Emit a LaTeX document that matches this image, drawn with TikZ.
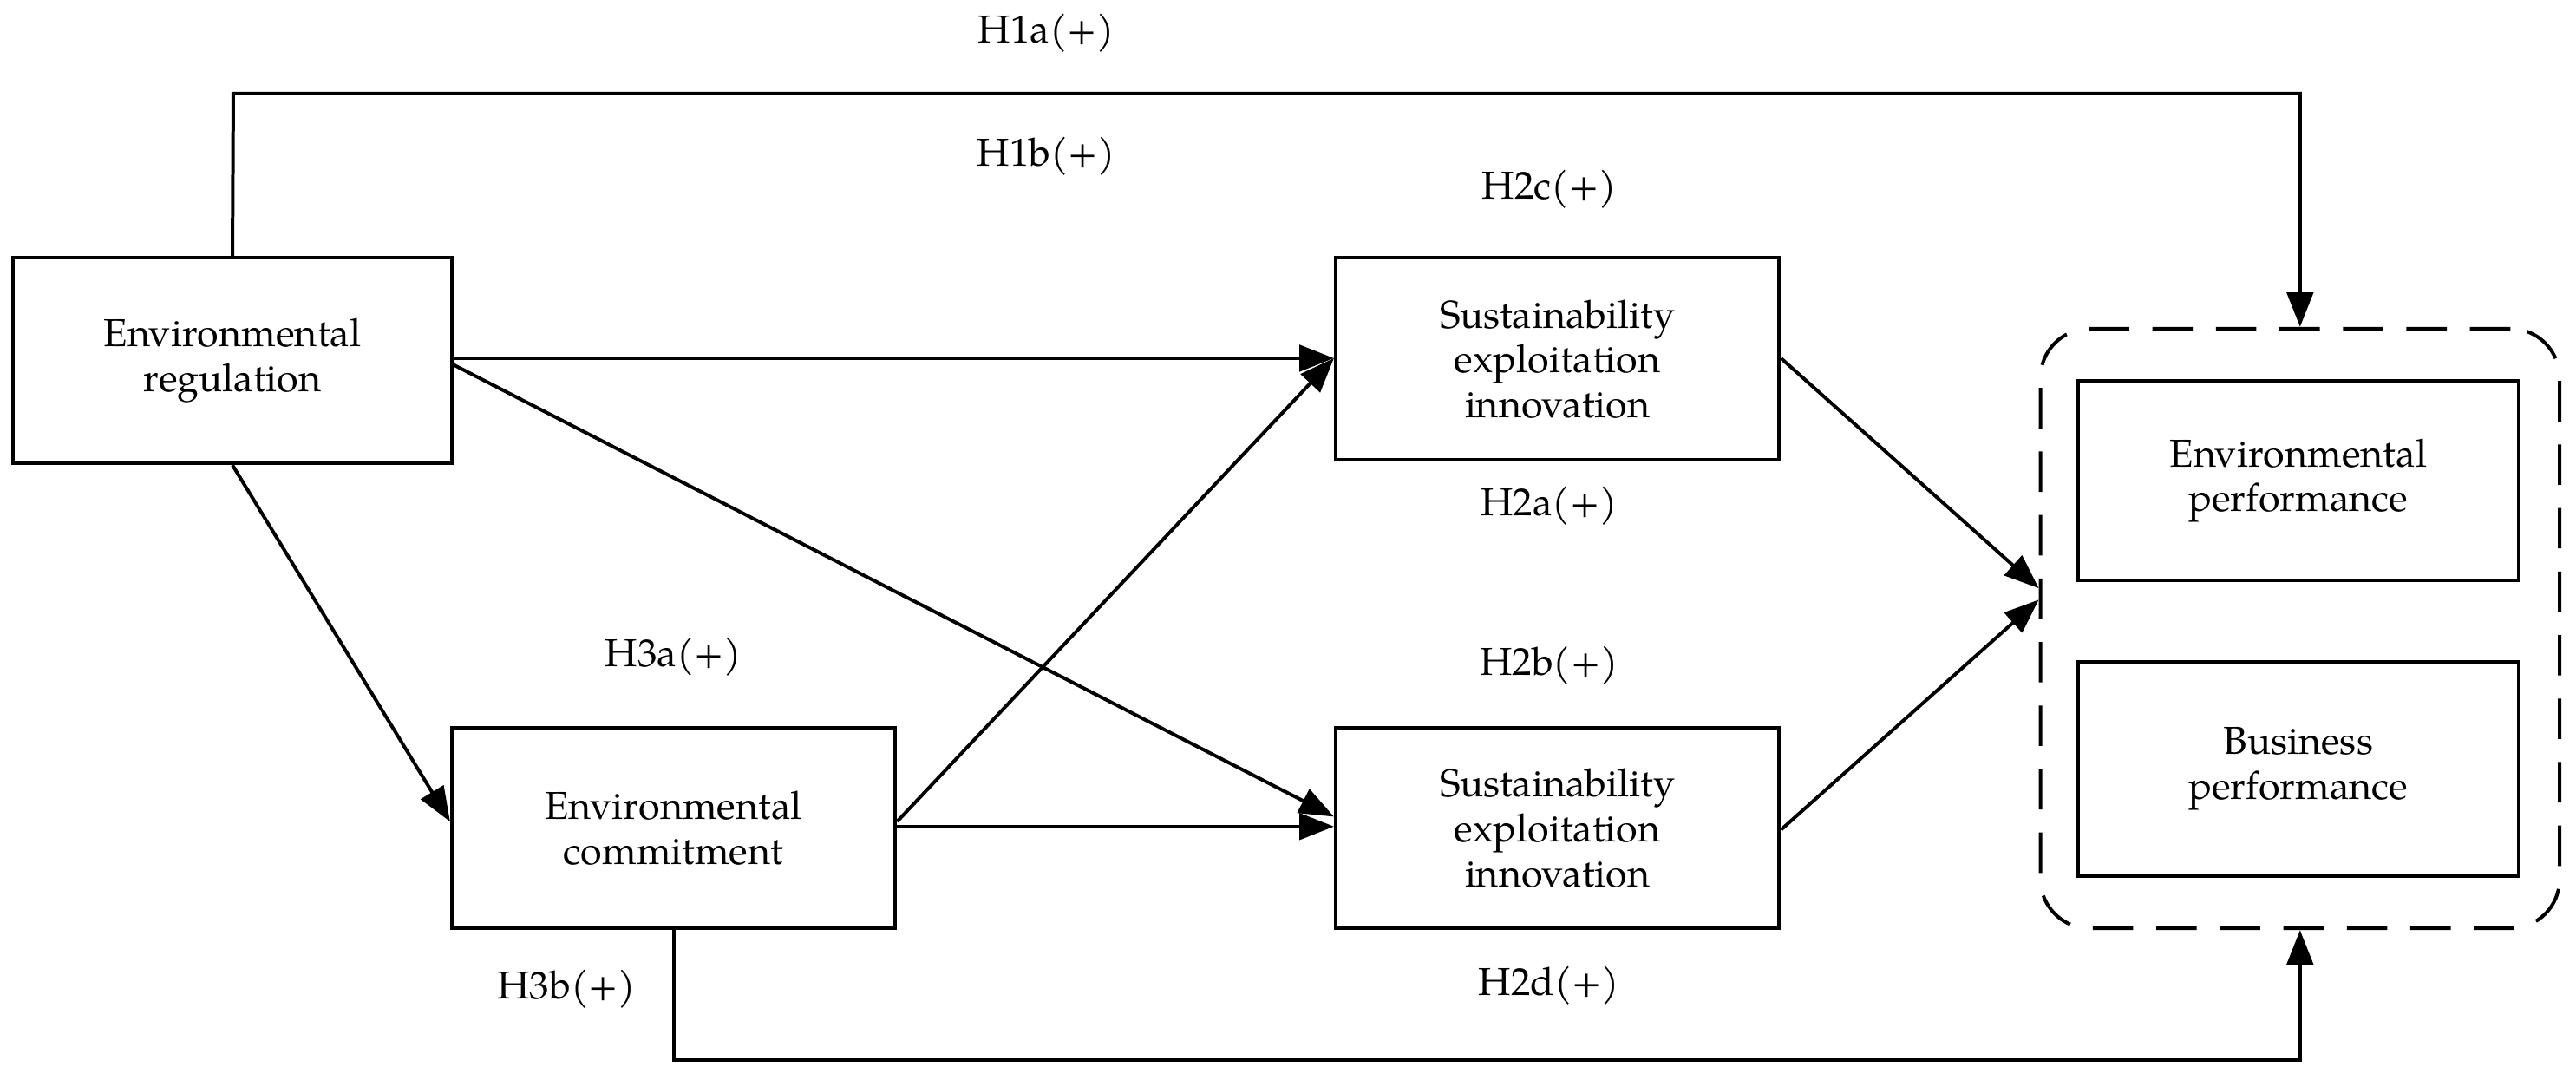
\documentclass[tikz,border=0pt]{standalone}
\usepackage{fontspec}
\setmainfont{TeX Gyre Pagella}
\usetikzlibrary{arrows.meta}
\begin{document}
\begin{tikzpicture}[x=0.02cm,y=-0.02cm,
  box/.style={draw,line width=1.2pt,align=center,font=\fontsize{13.5}{15.5}\selectfont},
  lab/.style={font=\fontsize{13.5}{15.5}\selectfont},
  arr/.style={line width=1.2pt,-{Triangle[length=0.42cm,width=0.32cm]}}]
\useasboundingbox (0,0) rectangle (1568,657);
\node[box,minimum width=267*0.02cm,minimum height=125*0.02cm] (er) at (141.5,219.5) {Environmental\\regulation};
\node[box,minimum width=270*0.02cm,minimum height=122*0.02cm] (ec) at (410,504) {Environmental\\commitment};
\node[box,minimum width=270*0.02cm,minimum height=123*0.02cm] (st) at (948,218.5) {Sustainability\\exploitation\\innovation};
\node[box,minimum width=270*0.02cm,minimum height=122*0.02cm] (sb) at (948,504) {Sustainability\\exploitation\\innovation};
\node[draw,dashed,dash pattern=on 14pt off 8pt,line width=1.2pt,rounded corners=0.6cm,minimum width=316*0.02cm,minimum height=365*0.02cm] (out) at (1400,382.5) {};
\node[box,minimum width=268*0.02cm,minimum height=121*0.02cm] (ep) at (1399,292.5) {Environmental\\performance};
\node[box,minimum width=268*0.02cm,minimum height=130*0.02cm] (bp) at (1399,468) {Business\\performance};
\coordinate (c1) at (142,57); \coordinate (c2) at (1400,57);
\coordinate (c3) at (410,645); \coordinate (c4) at (1400,645);
\draw[arr] (er.north) -- (c1) -- (c2) -- (out.north);
\draw[arr] (er.east |- 0,218) -- (st.west |- 0,218);
\draw[arr] (er.east |- 0,222) -- (sb.west |- 0,497);
\draw[arr] (er.south) -- (ec.west |- 0,500);
\draw[arr] (ec.east |- 0,500) -- (st.west |- 0,218);
\draw[arr] (ec.east |- 0,503) -- (sb.west |- 0,503);
\draw[arr] (st.east |- 0,218) -- (out.west |- 0,358);
\draw[arr] (sb.east |- 0,505) -- (out.west |- 0,365);
\draw[arr] (ec.south) -- (c3) -- (c4) -- (out.south);
\node[lab] (l1) at (637,20) {H1a(+)};
\node[lab] (l2) at (637,95) {H1b(+)};
\node[lab] (l3) at (943,115) {H2c(+)};
\node[lab] (l4) at (943,308) {H2a(+)};
\node[lab] (l5) at (410,400) {H3a(+)};
\node[lab] (l6) at (943,405) {H2b(+)};
\node[lab] (l7) at (345,602) {H3b(+)};
\node[lab] (l8) at (943,600) {H2d(+)};
\end{tikzpicture}
\end{document}
